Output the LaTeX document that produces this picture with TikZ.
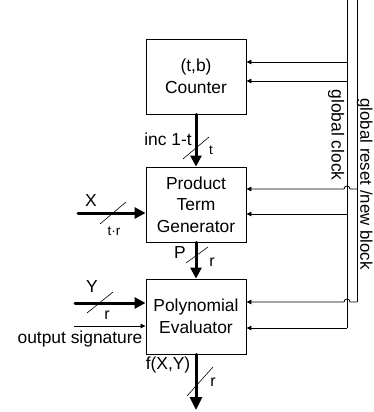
\documentclass[tikz,border=0pt]{standalone}
\usepackage{fontspec}
\setmainfont{Liberation Sans}
\usetikzlibrary{arrows.meta}
\begin{document}
\begin{tikzpicture}[x=1pt,y=-1pt,
  main/.style={font=\fontsize{17.4}{21.5}\selectfont, inner sep=0pt},
  small/.style={font=\fontsize{13.5}{15}\selectfont, inner sep=0pt},
  rsmall/.style={font=\fontsize{16}{18}\selectfont, inner sep=0pt},
  block/.style={draw, line width=0.9pt, minimum width=100pt, minimum height=75pt, inner sep=0pt, align=center, font=\fontsize{17.4}{21.5}\selectfont},
  bus/.style={line width=3pt, line cap=round, -{Triangle[length=11pt,width=11pt]}},
  sig/.style={line width=0.8pt, -{Triangle[length=5pt,width=4.5pt]}},
  wire/.style={line width=0.8pt},
  tick/.style={line width=0.6pt}]
\useasboundingbox (0,0) rectangle (373,412);
% blocks
\node[block] (counter) at (196,76.5) {(t,b)\\Counter};
\node[block] (ptg) at (196,204.5) {Product\\Term\\Generator};
\node[block] (pe) at (196,316.5) {Polynomial\\Evaluator};
% data buses
\draw[bus] (counter) -- (ptg);
\draw[bus] (ptg) -- (pe);
\coordinate (fout) at (196,410);
\draw[bus, -{Triangle[length=13pt,width=12pt]}] (pe) -- (fout);
\coordinate (xin) at (78,213);
\draw[bus] (xin) -- (xin -| ptg.west);
\coordinate (yin) at (75,303);
\draw[bus] (yin) -- (yin -| pe.west);
\coordinate (osig) at (74,326);
\draw[sig] (osig) -- (osig -| pe.west);
% global lines
\coordinate (clkT) at (347,0);
\coordinate (clkB) at (347,328);
\coordinate (rstT) at (357,0);
\coordinate (rstB) at (357,302);
\draw[wire] (clkT) -- (clkB);
\draw[wire] (rstT) -- (rstB);
\coordinate (c1) at (347,62);
\coordinate (c2) at (347,81);
\coordinate (c4) at (347,214);
\coordinate (r3) at (357,189);
\draw[sig] (c1) -- (c1 -| counter.east);
\draw[sig] (c2) -- (c2 -| counter.east);
\draw[sig] (c4) -- (c4 -| ptg.east);
\draw[sig] (clkB) -- (clkB -| pe.east);
\draw[sig] (r3) -- (350,189) .. controls (350,185) and (344,185) .. (344,189) -- (r3 -| ptg.east);
\draw[sig] (rstB) -- (350,302) .. controls (350,298) and (344,298) .. (344,302) -- (rstB -| pe.east);
\node[main, rotate=-90] (lclk) at (336,135) {global clock};
\node[rotate=-90, inner sep=0pt, font=\fontsize{16.8}{18}\selectfont] (lrst) at (364.6,184) {global reset /new block};
% ticks and labels
\draw[tick] (183,159) -- (209,137);
\node[main] (linc) at (168,139) {inc 1-t};
\node[small] (lt) at (211,150) {t};
\draw[tick] (100,224) -- (126,202);
\node[main] (lx) at (91,201) {X};
\node[small] (ltr) at (114,231) {t·r};
\draw[tick] (186,263) -- (208,247);
\node[main] (lp) at (180,253) {P};
\node[rsmall] (lr1) at (212,262) {r};
\draw[tick] (87,313) -- (113,292);
\node[main] (ly) at (92,287) {Y};
\node[rsmall] (lr2) at (107,315) {r};
\node[main] (los) at (80,339) {output signature};
\draw[tick] (187,396) -- (213,367);
\node[main] (lf) at (168,365) {f(X,Y)};
\node[rsmall] (lr3) at (213,382) {r};
\end{tikzpicture}
\end{document}
